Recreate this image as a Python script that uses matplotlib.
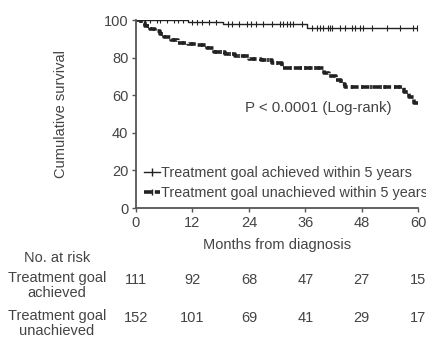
import numpy as np
import matplotlib
matplotlib.use("Agg")
import matplotlib.pyplot as plt
from matplotlib.transforms import blended_transform_factory

plt.rcParams["font.family"] = ["Liberation Sans", "DejaVu Sans"]

# step curves (event times, survival % after the step)
ach_t = [0, 11, 18.5, 36.4, 60]
ach_s = [100, 99, 98, 95.6, 95.6]
ach_cens = [2, 3, 4.5, 5, 6.5, 8, 9, 10, 12, 13, 14, 15.5, 17, 19.5, 20.5, 22, 23.5,
            24.5, 25.5, 27, 28.9, 30.6, 31.3, 32.1, 32.8, 33.4, 35.3, 37.5, 38.5, 39.1,
            39.8, 40.9, 41.3, 41.7, 43.4, 44.5, 46, 46.6, 47.7, 48.3, 50.2, 53.4, 56.2,
            58.9, 59.8]

una_t = [0, 1, 2, 3, 4, 5, 6, 7.5, 9, 11, 13, 15, 16.5, 19, 21, 24, 26.5, 29, 31,
         40, 41, 42.5, 43.5, 44.5, 57, 58, 59, 60]
una_s = [100, 98.5, 97, 95.5, 94, 92.5, 91, 89.5, 88, 87.5, 86.5, 85, 83, 82, 81,
         79.5, 78.5, 77, 74.5, 72, 70.5, 68, 66, 64.5, 62, 59, 56, 56]
una_cens = [2.5, 5.5, 8, 10, 12, 14, 17, 18, 20, 22, 23, 25, 27, 28, 30, 33, 35, 36,
            37, 38, 39, 46, 48, 50, 52, 53, 55, 56]

risk_months = [0, 12, 24, 36, 48, 60]
risk_ach = [111, 92, 68, 47, 27, 15]
risk_una = [152, 101, 69, 41, 29, 17]

grey = "#444444"
fs = 10.5


def surv_at(times, surv, t):
    idx = np.searchsorted(times, t, side="right") - 1
    return np.asarray(surv)[idx]


fig = plt.figure(figsize=(4.27, 3.40), dpi=100)
ax = fig.add_axes([0.3185, 0.388, 0.661, 0.553])

ax.step(ach_t, ach_s, where="post", color="#222222", linewidth=1.0)
ax.plot(ach_cens, surv_at(ach_t, ach_s, ach_cens), linestyle="none", marker="|",
        markersize=4, color="#222222", markeredgewidth=0.8)
(h1,) = ax.plot([], [], color="#222222", linewidth=1.0, marker="|", markersize=6,
                label="Treatment goal achieved within 5 years")

ax.step(una_t, una_s, where="post", color="#222222", linewidth=2.6,
        linestyle=(0, (2.2, 0.8)))
ax.plot(una_cens, surv_at(una_t, una_s, una_cens), linestyle="none", marker="|",
        markersize=3.5, color="#222222", markeredgewidth=1.2)
(h2,) = ax.plot([], [], color="#222222", linewidth=2.6, linestyle=(0, (2.2, 0.8)),
                marker="|", markersize=4, label="Treatment goal unachieved within 5 years")

ax.set_xlim(0, 60)
ax.set_ylim(0, 100)
ax.set_xticks(risk_months)
ax.set_yticks([0, 20, 40, 60, 80, 100])
for s in ["top", "right"]:
    ax.spines[s].set_visible(False)
for s in ["left", "bottom"]:
    ax.spines[s].set_color("#555555")
    ax.spines[s].set_linewidth(1.3)
ax.tick_params(length=3, width=1, color="#555555", labelsize=fs, labelcolor=grey, pad=2.5)

ax.set_ylabel("Cumulative survival", fontsize=fs, color=grey, labelpad=26)
ax.set_xlabel("Months from diagnosis", fontsize=fs, color=grey, labelpad=6)

ax.text(23.2, 53, "P < 0.0001 (Log-rank)", fontsize=10.8, color=grey, va="center")

leg = ax.legend(handles=[h1, h2], loc="lower left", bbox_to_anchor=(0.0, 0.0),
                frameon=False, fontsize=10.4, handlelength=1.1, handletextpad=0.1,
                labelspacing=0.42, borderaxespad=0.15)
for t in leg.get_texts():
    t.set_color(grey)

tr = blended_transform_factory(ax.transData, fig.transFigure)
fig.text(0.1335, 1 - 258 / 340, "No. at risk", fontsize=fs, color=grey,
         ha="center", va="center")
fig.text(0.1335, 1 - 271 / 340, "Treatment goal\nachieved", fontsize=fs, color=grey,
         ha="center", va="top", linespacing=1.1)
fig.text(0.1335, 1 - 309 / 340, "Treatment goal\nunachieved", fontsize=fs, color=grey,
         ha="center", va="top", linespacing=1.1)
for m, a, u in zip(risk_months, risk_ach, risk_una):
    ax.text(m, 1 - 280 / 340, str(a), transform=tr, fontsize=fs, color=grey,
            ha="center", va="center", clip_on=False)
    ax.text(m, 1 - 318 / 340, str(u), transform=tr, fontsize=fs, color=grey,
            ha="center", va="center", clip_on=False)

fig.savefig("out.png", dpi=100)
